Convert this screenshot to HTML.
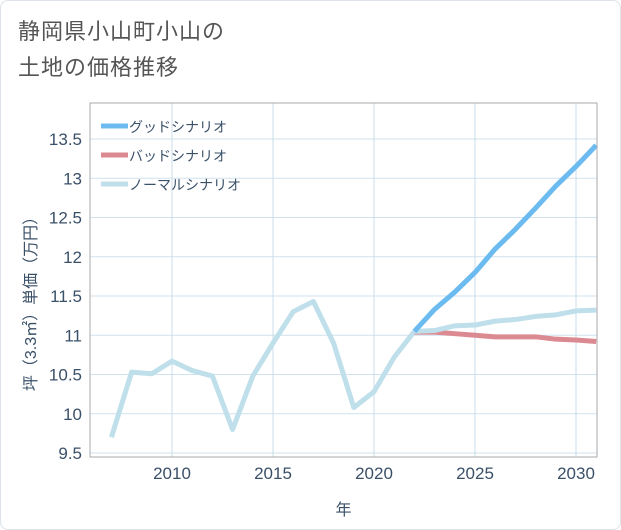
<!DOCTYPE html>
<html><head><meta charset="utf-8"><style>
body{margin:0;background:#fff;}
#wrap{position:relative;width:621px;height:530px;background:#fff;font-family:"Liberation Sans","Noto Sans CJK JP",sans-serif;}
#frame{position:absolute;left:0;top:0;width:619px;height:528px;border:1px solid #dde3e8;border-radius:8px;}
#title{position:absolute;left:18px;top:14px;font-size:22px;line-height:36px;color:#555;letter-spacing:1px;}
svg{position:absolute;left:0;top:0;}
</style></head><body>
<div id="wrap">
<div id="frame"></div>
<div id="title">静岡県小山町小山の<br>土地の価格推移</div>
<svg id="chart" width="621" height="530"></svg>
</div>
<script>
const histYears=[2007,2008,2009,2010,2011,2012,2013,2014,2015,2016,2017,2018,2019,2020,2021,2022];
const histValues=[9.7,10.53,10.51,10.67,10.55,10.48,9.8,10.48,10.9,11.3,11.43,10.9,10.08,10.28,10.72,11.05];
const futYears=[2022,2023,2024,2025,2026,2027,2028,2029,2030,2031];
const goodValues=[11.05,11.33,11.55,11.8,12.1,12.35,12.62,12.9,13.15,13.42];
const badValues=[11.04,11.04,11.02,11.0,10.98,10.98,10.98,10.95,10.94,10.92];
const normalValues=[11.05,11.06,11.12,11.13,11.18,11.2,11.24,11.26,11.31,11.32];
const yTicks=[9.5,10,10.5,11,11.5,12,12.5,13,13.5];
const yTickLabels=["9.5","10","10.5","11","11.5","12","12.5","13","13.5"];
const xTicks=[2010,2015,2020,2025,2030];
const xTickLabels=["2010","2015","2020","2025","2030"];

const L=90,R=597,T=103,B=457;
const x=yr=>172+(yr-2010)*20.2;
const y=v=>453-(v-9.5)*78.5;
const svg=document.getElementById('chart');
const NS='http://www.w3.org/2000/svg';
function mk(tag,attrs){const e=document.createElementNS(NS,tag);for(const k in attrs)e.setAttribute(k,attrs[k]);svg.appendChild(e);return e;}

let bg=mk('rect',{x:L,y:T,width:R-L,height:B-T,fill:'#fff',stroke:'#aaa','stroke-width':1});


yTicks.forEach((v,i)=>{
 let g=mk('line',{x1:L,x2:R,y1:y(v),y2:y(v),stroke:'#d0e2ee','stroke-width':1});
 
 
 let t=mk('text',{x:L-8,y:y(v)+6,'text-anchor':'end','font-size':17,fill:'#3a5068'});
 t.textContent=yTickLabels[i];
 
 
});
xTicks.forEach((v,i)=>{
 let g=mk('line',{x1:x(v),x2:x(v),y1:T,y2:B,stroke:'#c8dcea','stroke-width':1});
 
 
 let t=mk('text',{x:x(v),y:B+22,'text-anchor':'middle','font-size':17,fill:'#3a5068'});
 t.textContent=xTickLabels[i];
 
 
});
let xt=mk('text',{x:(L+R)/2,y:515,'text-anchor':'middle','font-size':16,fill:'#3a5068'});
xt.textContent='年';


let yt=mk('text',{x:0,y:0,'text-anchor':'middle','font-size':16,fill:'#3a5068',transform:'translate(36,300) rotate(-90)'});
yt.textContent='坪（3.3㎡）単価（万円）';



function line(xs,vs,color,name){
 const p=mk('polyline',{points:xs.map((yr,i)=>x(yr)+','+y(vs[i])).join(' '),fill:'none',stroke:color,'stroke-width':5,'stroke-linejoin':'round'});
 
 
}
const cp=mk('clipPath',{id:'cp'});
line(histYears,histValues,'#bfdfeb','historical-line');
line(futYears,badValues,'#dc8a92','bad-scenario-line');
line(futYears,normalValues,'#bfdfeb','normal-scenario-line');
line(futYears,goodValues,'#6cbbf0','good-scenario-line');
let cover=mk('rect',{x:R+1,y:T-5,width:20,height:B-T+10,fill:'#fff'});


let border=mk('rect',{x:L,y:T,width:R-L,height:B-T,fill:'none',stroke:'#aaa','stroke-width':1});



const legNames=['グッドシナリオ','バッドシナリオ','ノーマルシナリオ'];
const legColors=['#6cbbf0','#dc8a92','#bfdfeb'];
legNames.forEach((n,i)=>{
 const ly=126+i*29;
 let l=mk('line',{x1:101,x2:128,y1:ly,y2:ly,stroke:legColors[i],'stroke-width':5});
 
 
 let t=mk('text',{x:129,y:ly+6,'font-size':14,fill:'#3a5068'});
 t.textContent=n;
 
 
});
</script>
</body></html>
